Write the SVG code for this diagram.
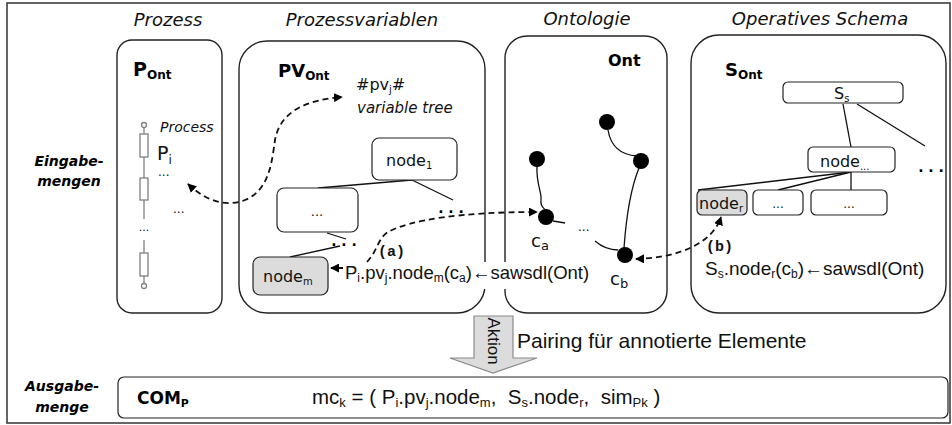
<svg xmlns="http://www.w3.org/2000/svg" width="952" height="425" viewBox="0 0 952 425">
  <style>
    .frame { fill: #ffffff; stroke: #333333; stroke-width: 1.5; }
    .box { fill: #ffffff; stroke: #222222; stroke-width: 1.4; }
    .nbox { fill: #ffffff; stroke: #222222; stroke-width: 1.2; }
    .sel { fill: #dcdcdc; stroke: #222222; stroke-width: 1.2; }
    .edge { fill: none; stroke: #111111; stroke-width: 1.3; }
    .dash { fill: none; stroke: #111111; stroke-width: 1.8; stroke-dasharray: 6 4; }
    .chain { fill: #ffffff; stroke: #808080; stroke-width: 1.3; }
    .dot { fill: #000000; }
    .title { font-family: "DejaVu Sans", Verdana, sans-serif; font-style: italic; font-size: 18px; text-anchor: middle; fill: #111; }
    .side { font-family: "DejaVu Sans", Verdana, sans-serif; font-style: italic; font-weight: bold; font-size: 14px; text-anchor: middle; fill: #000; }
    .lbl { font-family: "DejaVu Sans", Verdana, sans-serif; font-weight: bold; fill: #000; }
    .t { font-family: "DejaVu Sans", Verdana, sans-serif; fill: #111; }
    .a { font-family: "Liberation Sans", Arial, sans-serif; fill: #111; }
    .mono { font-family: "Liberation Mono", "Courier New", monospace; font-weight: bold; font-size: 15px; fill: #111; }
  </style>
  <defs>
    <marker id="arr" viewBox="0 0 10 10" refX="9" refY="5" markerWidth="9" markerHeight="9" markerUnits="userSpaceOnUse" orient="auto-start-reverse">
      <path d="M0,0 L10,5 L0,10 Z" fill="#000"/>
    </marker>
  </defs>

  <!-- outer frame -->
  <rect class="frame" x="7" y="3" width="943" height="420"/>

  <!-- column titles -->
  <g id="titles">
    <text class="title" x="168" y="26">Prozess</text>
    <text class="title" x="362" y="26">Prozessvariablen</text>
    <text class="title" x="587" y="25">Ontologie</text>
    <text class="title" x="820" y="25">Operatives Schema</text>
  </g>

  <!-- row labels -->
  <g id="row-labels">
    <text class="side" x="69" y="166">Eingabe-</text>
    <text class="side" x="69" y="186">mengen</text>
    <text class="side" x="62" y="391">Ausgabe-</text>
    <text class="side" x="62" y="412">menge</text>
  </g>

  <!-- process ontology -->
  <g id="p-ont">
    <rect class="box" x="117" y="40" width="105" height="273" rx="15"/>
    <text class="lbl" x="133" y="76" font-size="19">P<tspan font-size="12" dy="3">Ont</tspan></text>
    <circle class="chain" cx="144" cy="125" r="2.5"/>
    <line class="chain" x1="144" y1="127.5" x2="144" y2="134"/>
    <rect class="chain" x="140" y="134" width="8" height="23"/>
    <line class="chain" x1="144" y1="157" x2="144" y2="178"/>
    <rect class="chain" x="140" y="178" width="8" height="22"/>
    <line class="chain" x1="144" y1="200" x2="144" y2="219"/>
    <text class="t" x="144" y="231" font-size="11" text-anchor="middle" fill="#808080">...</text>
    <line class="chain" x1="144" y1="240" x2="144" y2="253"/>
    <rect class="chain" x="140" y="253" width="8" height="23"/>
    <line class="chain" x1="144" y1="276" x2="144" y2="283.5"/>
    <circle class="chain" cx="144" cy="286" r="2.5"/>
    <text class="t" x="160" y="132" font-size="14" font-style="italic">Process</text>
    <text class="t" x="157" y="160" font-size="19">P<tspan font-size="12" dy="4">i</tspan></text>
    <text class="t" x="158" y="176" font-size="12">...</text>
    <text class="t" x="173" y="213" font-size="12">...</text>
  </g>

  <!-- process variable ontology -->
  <g id="pv-ont">
    <rect class="box" x="239" y="41" width="246" height="272" rx="28"/>
    <text class="lbl" x="278" y="77" font-size="18">PV<tspan font-size="12" dy="3">Ont</tspan></text>
    <text class="t" x="356" y="90" font-size="16">#pv<tspan font-size="10" dy="3">j</tspan><tspan dy="-3">#</tspan></text>
    <text class="t" x="357" y="113" font-size="15" font-style="italic">variable tree</text>
    <line class="edge" x1="412" y1="180" x2="318" y2="188"/>
    <line class="edge" x1="412" y1="180" x2="453" y2="200"/>
    <rect class="nbox" x="372" y="138" width="85" height="42" rx="7"/>
    <text class="t" x="386" y="166" font-size="16">node<tspan font-size="10" dy="3">1</tspan></text>
    <rect class="nbox" x="277" y="188" width="81" height="44" rx="7"/>
    <text class="t" x="317" y="216" font-size="13" text-anchor="middle">...</text>
    <text class="lbl" x="451" y="213" font-size="14" text-anchor="middle">. . .</text>
    <line class="edge" x1="327" y1="233" x2="346" y2="239"/>
    <text class="lbl" x="344" y="246" font-size="14" text-anchor="middle">. . .</text>
    <line class="edge" x1="340" y1="246" x2="290" y2="257"/>
    <rect class="sel" x="253" y="257" width="75" height="38" rx="7"/>
    <text class="t" x="263" y="282" font-size="16">node<tspan font-size="10" dy="3">m</tspan></text>
  </g>

  <!-- domain ontology -->
  <g id="ont">
    <rect class="box" x="505" y="36" width="162" height="277" rx="22"/>
    <text class="lbl" x="608" y="66" font-size="16">Ont</text>
    <path class="edge" d="M537,166 C536,184 542,192 541,200 S545,208 546,211"/>
    <path class="edge" d="M608,130 C611,148 622,155 637,156"/>
    <path class="edge" d="M639,168 C630,190 626,220 624,248"/>
    <line class="edge" x1="553" y1="221" x2="565" y2="223"/>
    <path class="edge" d="M595,241 C602,247 610,250 618,250"/>
    <text class="t" x="578" y="231" font-size="12">...</text>
    <circle class="dot" cx="537" cy="159" r="8"/>
    <circle class="dot" cx="546" cy="217" r="8"/>
    <circle class="dot" cx="607" cy="122" r="8"/>
    <circle class="dot" cx="641" cy="161" r="8"/>
    <circle class="dot" cx="625" cy="255" r="8"/>
    <text class="t" x="531" y="247" font-size="18">c<tspan font-size="13" dy="3">a</tspan></text>
    <text class="t" x="610" y="285" font-size="18">c<tspan font-size="13" dy="3">b</tspan></text>
  </g>

  <!-- operative schema -->
  <g id="s-ont">
    <rect class="box" x="691" y="35" width="255" height="278" rx="28"/>
    <text class="lbl" x="725" y="76" font-size="18">S<tspan font-size="12" dy="3">Ont</tspan></text>
    <line class="edge" x1="857" y1="104" x2="925" y2="146"/>
    <line class="edge" x1="843" y1="104" x2="851" y2="147"/>
    <line class="edge" x1="851" y1="172" x2="698" y2="190"/>
    <line class="edge" x1="851" y1="172" x2="778" y2="190"/>
    <line class="edge" x1="851" y1="172" x2="851" y2="190"/>
    <rect class="nbox" x="783" y="82" width="120" height="21" rx="5"/>
    <text class="t" x="834" y="99" font-size="16">S<tspan font-size="10" dy="3">s</tspan></text>
    <rect class="nbox" x="808" y="147" width="87" height="25" rx="5"/>
    <text class="t" x="820" y="167" font-size="16">node<tspan font-size="10" dy="3">...</tspan></text>
    <text class="lbl" x="931" y="172" font-size="14" text-anchor="middle">. . .</text>
    <rect class="sel" x="697" y="190" width="50" height="25" rx="5"/>
    <text class="t" x="699" y="209" font-size="16">node<tspan font-size="10" dy="3">r</tspan></text>
    <rect class="nbox" x="753" y="190" width="50" height="25" rx="5"/>
    <text class="t" x="778" y="208" font-size="12" text-anchor="middle">...</text>
    <rect class="nbox" x="811" y="190" width="76" height="25" rx="5"/>
    <text class="t" x="849" y="208" font-size="12" text-anchor="middle">...</text>
    <text class="mono" x="706" y="251">(b)</text>
    <text class="a" x="705" y="275" font-size="19">S<tspan font-size="12" dy="3">s</tspan><tspan dy="-3">.node</tspan><tspan font-size="12" dy="3">r</tspan><tspan dy="-3">(c</tspan><tspan font-size="12" dy="3">b</tspan><tspan dy="-3">)←sawsdl(Ont)</tspan></text>
  </g>

  <!-- annotation of the process variable node -->
  <g id="annotation-a">
    <rect x="344" y="262" width="253" height="27" fill="#ffffff"/>
    <text class="a" x="345" y="279" font-size="18.5">P<tspan font-size="12" dy="3">i</tspan><tspan dy="-3">.pv</tspan><tspan font-size="12" dy="3">j</tspan><tspan dy="-3">.node</tspan><tspan font-size="12" dy="3">m</tspan><tspan dy="-3">(c</tspan><tspan font-size="12" dy="3">a</tspan><tspan dy="-3">)←sawsdl(Ont)</tspan></text>
    <text class="mono" x="378" y="256">(a)</text>
  </g>

  <!-- connectors -->
  <g id="connectors">
    <path class="dash" d="M188,184 C205,200 225,208 245,200 C270,190 272,160 275,140 C280,112 305,100 342,97" marker-start="url(#arr)" marker-end="url(#arr)"/>
    <path class="dash" d="M367,262 C378,250 378,238 388,232 C410,220 460,212 537,212" marker-end="url(#arr)"/>
    <path class="dash" d="M636,259 C675,258 712,245 721,217" marker-start="url(#arr)" marker-end="url(#arr)"/>
    <path class="dash" d="M343,268 L331,268" marker-end="url(#arr)"/>
  </g>

  <!-- pairing action -->
  <g id="action">
    <polygon points="474,316 513,316 513,358 537,358 493,373 450,358 474,358" fill="#dcdcdc" stroke="#8a8a8a" stroke-width="1.2"/>
    <text class="a" x="0" y="0" font-size="17" text-anchor="middle" transform="translate(488,341) rotate(90)">Aktion</text>
    <text class="a" x="517" y="348" font-size="21">Pairing für annotierte Elemente</text>
  </g>

  <!-- output set -->
  <g id="com">
    <rect class="nbox" x="118" y="377" width="830" height="41" rx="6"/>
    <text class="lbl" x="137" y="404" font-size="17">COM<tspan font-size="11" dy="3">P</tspan></text>
    <text class="a" x="312" y="404" font-size="20.5">mc<tspan font-size="13" dy="3">k</tspan><tspan dy="-3"> = ( P</tspan><tspan font-size="13" dy="3">i</tspan><tspan dy="-3">.pv</tspan><tspan font-size="13" dy="3">j</tspan><tspan dy="-3">.node</tspan><tspan font-size="13" dy="3">m</tspan><tspan dy="-3">,&#160;&#160;S</tspan><tspan font-size="13" dy="3">s</tspan><tspan dy="-3">.node</tspan><tspan font-size="13" dy="3">r</tspan><tspan dy="-3">,&#160;&#160;sim</tspan><tspan font-size="13" dy="3">Pk</tspan><tspan dy="-3"> )</tspan></text>
  </g>
</svg>
